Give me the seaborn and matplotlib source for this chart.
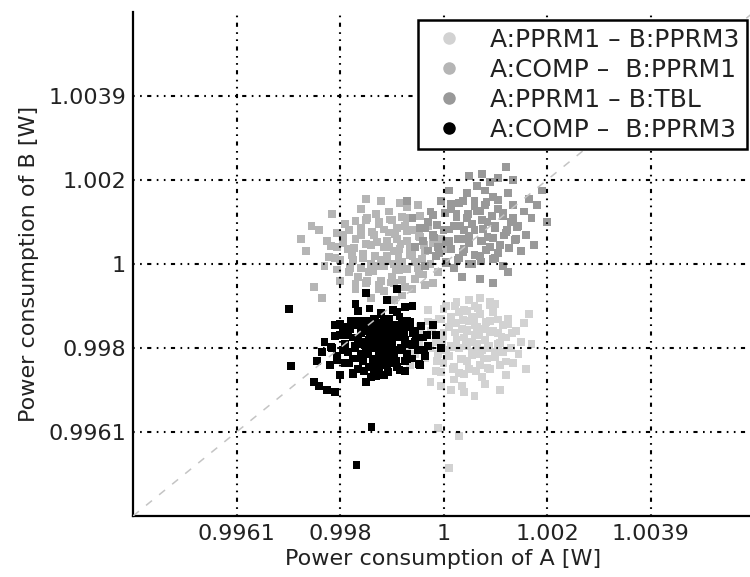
import matplotlib
matplotlib.use("Agg")
import matplotlib.pyplot as plt
from matplotlib.lines import Line2D
import seaborn as sns
import pandas as pd

# ---- data: offsets from 1 W in units of 1e-5 W ----
names = ["A:PPRM1 \u2013 B:PPRM3", "A:COMP \u2013  B:PPRM1",
         "A:PPRM1 \u2013 B:TBL", "A:COMP \u2013  B:PPRM3"]
colors = ["#d2d2d2", "#b5b5b5", "#999999", "#000000"]

pprm1_pprm3_a = [40, 65, 15, 55, 25, 80, 0, 45, 70, 30, 95, 10, 50, -15, 75, 35, 105, 20, 60, -5,
                 85, 40, 115, 5, 55, -25, 90, 30, 70, -10, 120, 45, 15, 100, 60, -30, 80, 25, 130, 50,
                 -20, 95, 35, 65, -40, 110, 10, 75, 140, 0, 55, 85, -35, 125, 20, 45, 100, -50, 70, 30,
                 150, -15, 90, 60, -45, 115, 35, 5, 135, -55, 80, 50, 155, -25, 105, 15, -60, 120, 70, -5,
                 145, 40, -70, 90, 160, 60, -30, 110, 25, -65, 10, -10, 30, 170, 165,
                 -5, 18, 40, 62, 85,
                 -35, -12, 10, 33, 55, 78, 100, 120,
                 -48, -25, -2, 20, 43, 65, 88, 110, 130,
                 -45, -22, 0, 23, 45, 68, 90, 112, 132,
                 -30, -8, 15, 37, 60, 82, 105, 125,
                 0, 22, 45, 67, 90]
pprm1_pprm3_b = [-175, -150, -195, -210, -140, -180, -165, -230, -120, -200, -160, -220, -135, -185, -205, -155, -190, -245, -170, -130,
                 -225, -110, -145, -205, -185, -160, -135, -260, -240, -215, -175, -195, -125, -210, -100, -200, -155, -180, -200, -250,
                 -140, -115, -225, -190, -175, -240, -150, -270, -160, -235, -125, -200, -225, -130, -275, -160, -95, -190, -215, -115,
                 -185, -255, -250, -145, -150, -210, -290, -100, -235, -215, -285, -85, -140, -280, -165, -300, -165, -265, -80, -290,
                 -215, -305, -195, -90, -250, -315, -110, -300, -90, -240, -485, -390, -410, -190, -120,
                 -258, -251, -262, -254, -248,
                 -222, -230, -219, -227, -216, -225, -221, -232,
                 -193, -200, -189, -197, -191, -202, -194, -188, -199,
                 -167, -160, -171, -163, -158, -169, -162, -173, -165,
                 -137, -130, -141, -133, -128, -139, -132, -143,
                 -107, -101, -111, -104, -98]

comp_pprm1_a = [-95, -70, -120, -85, -140, -60, -105, -130, -75, -115, -50, -155, -90, -100, -65, -170, -80, -125, -45, -145,
                -110, -35, -160, -95, -70, -185, -55, -135, -85, -120, -25, -175, -100, -60, -150, -40, -195, -110, -75, -130,
                -20, -165, -90, -55, -205, -140, -30, -115, -70, -180, -15, -150, -95, -210, -45, -125, -5, -190, -80, -160,
                -35, -225, -105, -60, -230, -10, -170, -85, -240, -140, 0, -200, -120, -50, -255, -20, -215, -95, -265, -150,
                -250, -235, -275,
                -170, -148, -125, -102, -80,
                -205, -182, -160, -137, -115, -92, -70, -48,
                -222, -200, -177, -155, -132, -110, -87, -65, -42,
                -218, -195, -173, -150, -128, -105, -83, -60, -38,
                -205, -183, -160, -138, -115, -93, -70, -48,
                -170, -148, -125, -103, -80]
comp_pprm1_b = [30, 55, 10, -15, 45, 20, 75, -5, 90, 40, -10, 25, 60, -30, 40, 60, 5, 95, 65, -20,
                20, 30, 85, -45, 110, 35, -35, 70, 35, -40, 0, 10, 105, 80, -45, -25, 70, 55, -55, 120,
                50, -30, 85, 5, 40, 0, 90, -65, 135, -10, 20, 105, 0, 15, 115, -60, 60, 95, -75, 130,
                -50, 55, 125, -60, -5, -20, -60, 145, 80, -80, 35, -40, 150, 140, 90, -45, 120, -85, 30, 155,
                -55, -80, 60,
                -47, -41, -51, -44, -38,
                -13, -20, -9, -17, -6, -15, -11, -22,
                17, 10, 21, 13, 19, 8, 16, 22, 11,
                43, 50, 39, 47, 52, 41, 48, 37, 45,
                73, 80, 69, 77, 82, 71, 78, 67,
                103, 109, 99, 106, 112]

pprm1_tbl_a = [60, 85, 35, 75, 45, 100, 20, 65, 90, 40, 115, 10, 55, 80, 25, 120, 0, 70, 105, 50,
               -10, 95, 130, 30, 60, 135, 15, 85, -20, 110, 45, 145, 5, 75, 125, -30, 100, 40, 155, 20,
               65, -15, 140, 90, -40, 115, 30, 165, 55, -5, 150, 80, -45, 170, 35, 105, -25, 125, 70, 180,
               -55, 10, 160, 135, -60, 95, 190, 50, -35, 175, 75, 120, -70, 200,
               5, 27, 50, 72, 95,
               -30, -8, 15, 37, 60, 82, 105, 127,
               -40, -18, 5, 27, 50, 72, 95, 117, 138,
               -35, -13, 10, 32, 55, 77, 100, 122, 142,
               -20, 3, 25, 48, 70, 93, 115, 135,
               15, 38, 60, 83, 105]
pprm1_tbl_b = [80, 100, 60, 55, 110, 85, 90, 125, 40, 35, 115, 55, 95, 140, 120, 75, 80, 20, 130, 50,
               40, 160, 100, 15, 150, 140, 130, 65, 70, 45, 170, 90, 5, 105, 170, 100, 15, 80, 125, -10,
               185, 20, 60, 195, 55, -5, 145, 155, 0, 150, 30, 175, 85, 110, -30, 205, 125, -20, -35, 140,
               40, 175, 70, 200, 110, -45, 175, 210, -5, 45, 215, 230, 150, 100,
               3, 9, -1, 6, 12,
               32, 25, 36, 28, 22, 34, 27, 38,
               56, 63, 52, 60, 66, 54, 61, 68, 57,
               86, 93, 82, 90, 95, 84, 91, 80, 88,
               116, 122, 112, 120, 126, 114, 121, 110,
               143, 149, 139, 147, 152]

comp_pprm3_a = [-120, -95, -140, -110, -160, -85, -130, -105, -150, -75, -125, -100, -175, -115, -135, -90, -145, -65, -120, -155,
                -80, -130, -110, -185, -95, -140, -60, -125, -170, -100, -135, -115, -80, -160, -105, -145, -70, -190, -125, -90,
                -150, -55, -115, -175, -135, -100, -200, -85, -130, -145, -65, -120, -165, -110, -205, -75, -140, -95, -180, -120,
                -50, -155, -105, -215, -85, -135, -170, -60, -125, -190, -100, -150, -40, -115, -230, -80, -160, -130, -45, -185,
                -95, -145, -220, -70, -110, -195, -55, -165, -235, -140, -30, -175, -90, -245, -120, -200, -35, -210, -150, -75,
                -298, -294, -168, -139, -240, -225, -250, -210, -150, -110, -90, -170, -60, -15, -5, -20,
                -175, -153, -130, -107, -85,
                -205, -183, -160, -137, -115, -92, -70, -47,
                -217, -195, -172, -150, -128, -105, -83, -60, -37,
                -210, -188, -166, -143, -121, -99, -77, -54, -32,
                -200, -178, -155, -133, -110, -88, -65, -43,
                -165, -143, -120, -97, -75]
comp_pprm3_b = [-185, -170, -200, -150, -190, -205, -165, -225, -160, -180, -210, -195, -175, -135, -240, -155, -215, -190, -160, -230,
                -140, -185, -200, -210, -235, -150, -165, -250, -145, -175, -195, -220, -200, -165, -130, -180, -215, -190, -170, -245,
                -205, -185, -155, -225, -130, -210, -170, -175, -225, -160, -150, -205, -250, -180, -220, -230, -175, -145, -155, -240,
                -205, -185, -165, -200, -125, -260, -200, -225, -140, -235, -190, -135, -175, -265, -185, -160, -215, -150, -240, -170,
                -215, -245, -240, -135, -240, -150, -160, -135, -210, -270, -195, -260, -115, -230, -120, -265, -220, -145, -280, -255,
                -108, -242, -479, -388, -290, -300, -280, -305, -70, -85, -60, -95, -100, -170, -200, -145,
                -262, -255, -266, -258, -252,
                -228, -236, -225, -233, -222, -231, -227, -238,
                -198, -205, -194, -202, -196, -207, -199, -193, -204,
                -172, -165, -176, -168, -163, -174, -167, -178, -170,
                -142, -135, -146, -138, -133, -144, -137, -148,
                -112, -106, -116, -109, -103]

tick_values = [0.996, 0.998, 1.0, 1.002, 1.004]
tick_labels = ["0.9961", "0.998", "1", "1.002", "1.0039"]
axis_limits = [0.994, 1.006]

UNIT = 1e-5
series = [(pprm1_pprm3_a, pprm1_pprm3_b), (comp_pprm1_a, comp_pprm1_b),
          (pprm1_tbl_a, pprm1_tbl_b), (comp_pprm3_a, comp_pprm3_b)]
rows = []
for name, (xa, yb) in zip(names, series):
    for a, b in zip(xa, yb):
        rows.append({"A": 1 + a * UNIT, "B": 1 + b * UNIT, "pair": name})
df = pd.DataFrame(rows)

# ---- figure ----
sns.set_style("white")
plt.rcParams["font.family"] = ["DejaVu Sans"]
fig = plt.figure(figsize=(7.5, 5.77), dpi=100)
ax = fig.add_axes([133 / 750, 61 / 577, 621 / 750, 504 / 577])

sns.scatterplot(data=df, x="A", y="B", hue="pair", hue_order=names,
                palette=dict(zip(names, colors)), marker="s", s=32,
                linewidth=0, legend=False, ax=ax, zorder=1)

ax.axline((1.0, 1.0), slope=1, color="#c4c4c4", lw=1.1,
          linestyle=(0, (5, 6)), zorder=3)

ax.set_xlim(axis_limits)
ax.set_ylim(axis_limits)
ax.set_xticks(tick_values)
ax.set_xticklabels(tick_labels)
ax.set_yticks(tick_values)
ax.set_yticklabels(tick_labels)

ax.grid(True, color="black", lw=1.5,
        linestyle=(0, (0.8, 2.6, 0.8, 2.6, 2.0, 2.6)), zorder=2)
ax.set_axisbelow(False)

for side in ["top", "right"]:
    ax.spines[side].set_visible(False)
for side in ["left", "bottom"]:
    ax.spines[side].set_color("black")
    ax.spines[side].set_linewidth(1.6)

ax.tick_params(axis="both", direction="in", length=6, width=1.5,
               labelsize=16, labelcolor="#222222", color="black")
ax.tick_params(axis="x", pad=6)
ax.tick_params(axis="y", pad=5)

ax.set_xlabel("Power consumption of A [W]", fontsize=16, color="#222222")
ax.set_ylabel("Power consumption of B [W]", fontsize=16, color="#222222")
ax.xaxis.set_label_coords(0.5, -0.066)
ax.yaxis.set_label_coords(-0.152, 0.5)

handles = [Line2D([0], [0], marker="o", linestyle="none", markersize=8,
                  markerfacecolor=c, markeredgecolor=c) for c in colors]
leg = ax.legend(handles, names, loc="upper right", bbox_to_anchor=(0.989, 0.984),
                borderaxespad=0, frameon=True, fancybox=False, fontsize=18,
                handletextpad=0.7, labelspacing=0.24, borderpad=0.3,
                handlelength=1.9, framealpha=1)
leg.get_frame().set_edgecolor("black")
leg.get_frame().set_linewidth(1.8)
for t in leg.get_texts():
    t.set_color("#222222")
leg.set_zorder(5)

fig.savefig("out.png", dpi=100)
